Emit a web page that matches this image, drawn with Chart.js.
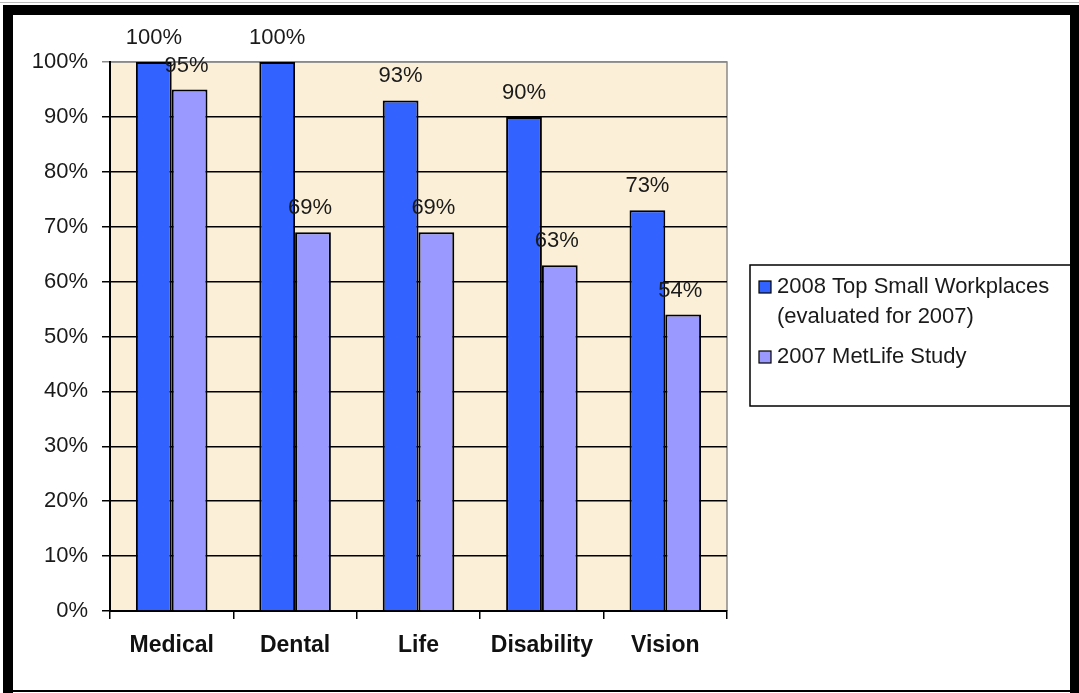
<!DOCTYPE html>
<html>
<head>
<meta charset="utf-8">
<script src="https://cdn.jsdelivr.net/npm/chart.js@4/dist/chart.umd.min.js"></script>
<style>
  html, body { margin: 0; padding: 0; background: #fff; }
  #wrap { position: relative; width: 1079px; height: 693px; }
</style>
</head>
<body>
<div id="wrap"><canvas id="myChart" width="1079" height="693"></canvas></div>
<script>
// chart data
const categories = ["Medical", "Dental", "Life", "Disability", "Vision"];
const topSmallWorkplaces = [100, 100, 93, 90, 73];
const metLifeStudy = [95, 69, 69, 63, 54];
const seriesNames = ["2008 Top Small Workplaces (evaluated for 2007)", "2007 MetLife Study"];
const legendLines = [["2008 Top Small Workplaces", "(evaluated for 2007)"], ["2007 MetLife Study"]];
const yTicks = [0, 10, 20, 30, 40, 50, 60, 70, 80, 90, 100];

const FONT = "'Liberation Sans', Arial, sans-serif";

// beige plot background
const plotBg = {
	id: "plotBg",
	beforeDraw(chart) {
		const { ctx, chartArea: a } = chart;
		ctx.save();
		ctx.fillStyle = "#FBEFD7";
		ctx.fillRect(a.left, a.top, a.right - a.left, a.bottom - a.top);
		ctx.strokeStyle = "#8a8a8a";
		ctx.lineWidth = 1.5;
		ctx.beginPath();
		ctx.moveTo(a.left, a.top);
		ctx.lineTo(a.right, a.top);
		ctx.lineTo(a.right, a.bottom);
		ctx.stroke();
		ctx.restore();
	}
};

// value labels above the bars
const valueLabels = {
	id: "valueLabels",
	afterDatasetsDraw(chart) {
		const ctx = chart.ctx;
		ctx.save();
		ctx.font = "22px " + FONT;
		ctx.fillStyle = "#1a1a1a";
		ctx.textAlign = "center";
		ctx.textBaseline = "middle";
		chart.data.datasets.forEach((ds, i) => {
			chart.getDatasetMeta(i).data.forEach((bar, j) => {
				ctx.fillText(ds.data[j] + "%", bar.x - (i === 1 ? 3 : 0), bar.y - 24);
			});
		});
		ctx.restore();
	}
};

// boxed legend on the right, plus the black frame
const boxLegend = {
	id: "boxLegend",
	afterDraw(chart) {
		const ctx = chart.ctx;
		ctx.save();
		ctx.fillStyle = "#fff";
		ctx.fillRect(750, 265, 322, 141);
		ctx.strokeStyle = "#000";
		ctx.lineWidth = 1.5;
		ctx.strokeRect(750, 265, 322, 141);

		ctx.font = "22px " + FONT;
		ctx.textBaseline = "middle";
		ctx.textAlign = "left";
		const rows = [[287, 317], [357]];
		chart.data.datasets.forEach((ds, i) => {
			const y0 = rows[i][0];
			ctx.fillStyle = ds.backgroundColor;
			ctx.fillRect(759, y0 - 6, 12, 12);
			ctx.strokeStyle = "#000";
			ctx.lineWidth = 1.2;
			ctx.strokeRect(759, y0 - 6, 12, 12);
			ctx.fillStyle = "#1a1a1a";
			legendLines[i].forEach((line, k) => ctx.fillText(line, 777, rows[i][k]));
		});

		// frame
		ctx.fillStyle = "#000";
		ctx.fillRect(3, 5, 1076, 10);
		ctx.fillRect(3, 5, 10, 688);
		ctx.fillRect(1070, 5, 9, 688);
		ctx.fillRect(3, 690, 1076, 2);
		ctx.fillStyle = "#bbb";
		ctx.fillRect(0, 2, 1079, 1);
		ctx.restore();
	}
};

new Chart(document.getElementById("myChart"), {
	type: "bar",
	data: {
		labels: categories,
		datasets: [{
			label: seriesNames[0],
			data: topSmallWorkplaces,
			backgroundColor: "#3262FF",
			borderColor: "#000",
			borderWidth: 2,
		}, {
			label: seriesNames[1],
			data: metLifeStudy,
			backgroundColor: "#9999FF",
			borderColor: "#000",
			borderWidth: 2,
		}]
	},
	options: {
		responsive: false,
		animation: false,
		layout: { padding: { left: 0, top: 62, right: 352, bottom: 0 } },
		categoryPercentage: 0.58,
		barPercentage: 1.0,
		plugins: {
			legend: { display: false },
			tooltip: { enabled: false }
		},
		scales: {
			x: {
				afterFit: s => { s.height = 82; },
				grid: {
					offset: true,
					drawOnChartArea: false,
					drawTicks: true,
					tickLength: 8,
					color: "#000",
					lineWidth: 1.5
				},
				border: { display: true, color: "#000", width: 2 },
				ticks: {
					color: "#111",
					padding: 13,
					font: { family: FONT, size: 23, weight: "bold" }
				}
			},
			y: {
				min: 0,
				max: 100,
				afterFit: s => { s.width = 110; },
				afterBuildTicks: s => { s.ticks = yTicks.map(v => ({ value: v })); },
				grid: {
					color: c => (c.tick && c.tick.value === 100 ? "#8a8a8a" : "#000"),
					lineWidth: 1.5,
					tickLength: 8
				},
				border: { display: true, color: "#000", width: 2 },
				ticks: {
					color: "#1a1a1a",
					padding: 14,
					font: { family: FONT, size: 22 },
					callback: v => v + "%"
				}
			}
		}
	},
	plugins: [plotBg, valueLabels, boxLegend]
});
</script>
</body>
</html>
